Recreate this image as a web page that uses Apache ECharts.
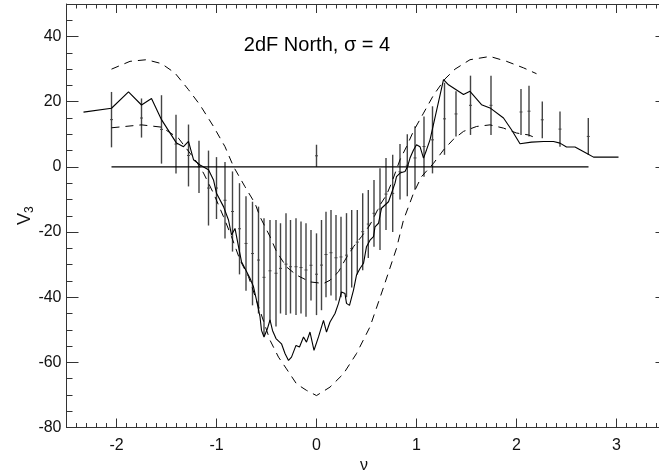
<!DOCTYPE html>
<html><head><meta charset="utf-8">
<script src="https://cdn.jsdelivr.net/npm/echarts@6/dist/echarts.min.js"></script>
<style>html,body{margin:0;padding:0;background:#fff}#c{width:659px;height:473px}</style>
</head><body><div id="c"></div>
<script>
// ---- data ----
const nuSolid = [-2.33,-2.05,-1.88,-1.75,-1.65,-1.55,-1.4,-1.33,-1.28,-1.23,-1.165,-1.08,-1.03,-1.0,-0.93,-0.88,-0.85,-0.815,-0.78,-0.75,-0.715,-0.665,-0.63,-0.6,-0.565,-0.55,-0.525,-0.49,-0.465,-0.44,-0.405,-0.35,-0.315,-0.28,-0.25,-0.205,-0.17,-0.13,-0.1,-0.065,-0.025,0.02,0.07,0.1,0.135,0.185,0.22,0.25,0.285,0.3,0.33,0.37,0.4,0.435,0.47,0.5,0.535,0.57,0.585,0.62,0.65,0.685,0.72,0.75,0.785,0.8,0.835,0.885,0.91,0.935,0.97,1.0,1.035,1.07,1.1,1.135,1.27,1.32,1.385,1.47,1.535,1.65,1.735,1.87,1.95,2.035,2.15,2.27,2.37,2.435,2.5,2.585,2.7,2.77,3.02];
const v3Solid = [16.8,18,23,19,21,14.5,7.3,6.2,7.8,2.2,0.6,-0.9,-4,-8.1,-12.2,-16.3,-20.9,-18.9,-24.5,-29.1,-31.2,-34.2,-36.8,-40.9,-46,-50.2,-52.2,-49.6,-47,-50.2,-52.7,-54.3,-57.3,-59.4,-58.4,-54.8,-55.3,-52.2,-53.8,-50.7,-56.3,-52.2,-47.1,-50.7,-47.6,-45,-41.9,-38.4,-38.9,-41.9,-42.5,-37.8,-33.2,-31.2,-29.6,-24.5,-22.5,-21.4,-18.4,-17.3,-12.7,-11.7,-10.7,-8.1,-5,-3,-1.9,-1.4,0.1,2.7,5.2,6.8,6.2,2.7,5.2,8.3,26.8,25.2,23.9,22.2,23.2,19.1,18.1,15,11.4,7.1,7.6,7.8,7.8,7.3,6.1,6.1,4.2,3.0,3.0];

const nuUpper = [-2.05,-1.865,-1.7,-1.55,-1.415,-1.28,-1.165,-1.03,-0.915,-0.83,-0.715,-0.615,-0.565,-0.465,-0.4,-0.3,-0.2,-0.065,0.07,0.135,0.22,0.285,0.37,0.45,0.535,0.585,0.635,0.7,0.75,0.835,0.9,0.97,1.07,1.17,1.285,1.385,1.535,1.735,1.9,2.07,2.2];
const v3Upper = [30,32.4,32.9,31.7,28.8,23.7,19,12.4,6.2,0.1,-6.1,-11.2,-15.3,-21.4,-26,-30.7,-33.2,-35.3,-35.8,-34.8,-32.2,-28.6,-24.5,-21.4,-17.8,-14.8,-11.7,-8.6,-5,2.2,6.2,11,16.5,22,27,30,32.9,33.9,32.4,30.4,28.6];

const nuLower = [-2.05,-1.75,-1.55,-1.38,-1.2,-1.13,-1.03,-0.93,-0.85,-0.765,-0.68,-0.6,-0.465,-0.38,-0.3,-0.2,-0.1,0.0,0.135,0.27,0.4,0.535,0.67,0.8,0.87,0.97,1.05,1.17,1.27,1.37,1.47,1.6,1.735,1.87,2.0,2.12,2.2];
const v3Lower = [12,12.9,12.2,8.8,1.6,-1.9,-8.1,-15.3,-21.4,-28.6,-33.7,-41,-53.2,-58.4,-62,-66.6,-68.6,-70.2,-67.6,-63.5,-57.3,-49.1,-37,-25,-16.3,-8.1,-3,1.1,5.2,8.5,10.9,12.4,12.9,11.9,10.4,9.8,8.8];

const barNu = [-2.05,-1.75,-1.55,-1.405,-1.28,-1.175,-1.08,-1.0,-0.915,-0.84,-0.77,-0.705,-0.64,-0.58,-0.525,-0.465,-0.405,-0.36,-0.305,-0.26,-0.205,-0.155,-0.105,-0.055,0.0,0.05,0.095,0.145,0.195,0.245,0.30,0.352,0.408,0.462,0.518,0.575,0.635,0.695,0.762,0.835,0.908,0.985,1.075,1.16,1.28,1.395,1.54,1.745,2.045,2.125,2.258,2.435,2.718,0.0];
const barLow = [6,9,1,-2,-6,-8,-18,-16,-22,-26,-33,-38,-42.5,-45,-52,-47.5,-49,-45,-45.5,-45,-45.5,-45,-46,-41,-45.5,-44,-40,-39.5,-41,-40,-40,-37,-33,-31.7,-28,-24.5,-25.5,-19.4,-20,-10,-9,-7,-3,-2,3.7,9.3,9.8,9.8,9.8,9.3,8.8,6.2,3.7,0];
const barHigh = [23,21,22,16,13,8,5,3,1.5,-1.4,-5,-9,-10.7,-12.2,-15.8,-16.3,-16.3,-17.3,-14.2,-16.3,-15.8,-16.8,-17.3,-19.4,-20.4,-16.3,-13.8,-13.2,-14.8,-15.3,-14.2,-13.2,-13.2,-8.1,-7.1,-4,-0.4,2.7,3.7,7,10,12.5,15.5,18.6,25.8,23.2,28,28,23.9,24.9,20.1,17,15,6.8];

const zeroNu = [-2.05, 2.72];
const zeroV3 = [0, 0];

const xTickLabels = [-2,-1,0,1,2,3];
const yTickLabels = [-80,-60,-40,-20,0,20,40];
const titleText = '2dF North, \u03c3 = 4';

// ---- chart ----
const X_MIN = -2.5, X_MAX = 3.45, Y_MIN = -80, Y_MAX = 50;
const FONT = '"Liberation Sans", Arial, Helvetica, sans-serif';
const AX = '#333';

const xMinor = [];
for (let i = -25; i <= 34; i++) { if (i % 10 !== 0) xMinor.push(i / 10); }
const yMinor = [];
for (let v = -80; v <= 50; v += 5) { if (v % 20 !== 0) yMinor.push(v); }

function pairs(xs, ys) { return xs.map((x, i) => [x, ys[i]]); }

function xAx(pos, ticks, len, showLine, showLabel) {
  return {
    type: 'value', position: pos, min: X_MIN, max: X_MAX,
    axisLine: { show: showLine, onZero: false, lineStyle: { color: AX, width: 1 } },
    axisTick: { show: true, inside: true, length: len, customValues: ticks, lineStyle: { color: AX, width: 1 } },
    axisLabel: showLabel ? { show: true, customValues: xTickLabels, margin: 10, fontSize: 16, fontFamily: FONT, color: '#111' } : { show: false },
    splitLine: { show: false }, minorTick: { show: false }
  };
}
function yAx(pos, ticks, len, showLine, showLabel) {
  return {
    type: 'value', position: pos, min: Y_MIN, max: Y_MAX,
    axisLine: { show: showLine, onZero: false, lineStyle: { color: AX, width: 1 } },
    axisTick: { show: true, inside: true, length: len, customValues: ticks, lineStyle: { color: AX, width: 1 } },
    axisLabel: showLabel ? { show: true, customValues: yTickLabels, margin: 5, fontSize: 16, fontFamily: FONT, color: '#111' } : { show: false },
    splitLine: { show: false }, minorTick: { show: false }
  };
}

const xAxes = [
  Object.assign(xAx('bottom', xTickLabels, 9, true, true), {
    name: '\u03bd', nameLocation: 'middle', nameGap: 30, nameMoveOverlap: false,
    nameTextStyle: { fontSize: 16, fontFamily: FONT, color: '#111' }
  }),
  xAx('bottom', xMinor, 4.5, false, false),
  xAx('top', xTickLabels, 9, true, false),
  xAx('top', xMinor, 4.5, false, false)
];
const yAxes = [
  Object.assign(yAx('left', yTickLabels, 12, true, true), {
    name: 'V{s|3}', nameLocation: 'middle', nameGap: 31, nameRotate: 90, nameMoveOverlap: false,
    nameTextStyle: { fontSize: 18, fontFamily: FONT, color: '#111',
      rich: { s: { fontSize: 12, fontFamily: FONT, color: '#111', verticalAlign: 'bottom', padding: [9, 0, 0, 0] } } }
  }),
  yAx('left', yMinor, 6, false, false),
  yAx('right', yTickLabels, 6, true, false)
];

const chart = echarts.init(document.getElementById('c'), null, { renderer: 'canvas' });
chart.setOption({
  animation: false,
  backgroundColor: '#fff',
  grid: { left: 66.5, right: -2.5, top: 4, bottom: 45.5, containLabel: false, outerBoundsMode: 'none' },
  xAxis: xAxes,
  yAxis: yAxes,
  graphic: [{
    type: 'text', x: 317, y: 45,
    style: { text: titleText, font: '20px ' + FONT, fill: '#000', align: 'center', verticalAlign: 'middle', textAlign: 'center', textVerticalAlign: 'middle' }
  }],
  series: [
    { type: 'line', xAxisIndex: 0, yAxisIndex: 0, data: pairs(zeroNu, zeroV3), symbol: 'none',
      lineStyle: { color: '#000', width: 1.2 } },
    { type: 'custom', xAxisIndex: 0, yAxisIndex: 0,
      data: barNu.map((x, i) => [x, barLow[i], barHigh[i]]),
      renderItem: function (params, api) {
        const x = api.value(0), lo = api.value(1), hi = api.value(2);
        const p1 = api.coord([x, lo]), p2 = api.coord([x, hi]);
        const pm = api.coord([x, (lo + hi) / 2]);
        return { type: 'group', children: [
          { type: 'line', shape: { x1: p1[0], y1: p1[1], x2: p2[0], y2: p2[1] }, style: { stroke: '#444', lineWidth: 1.4 } },
          { type: 'line', shape: { x1: pm[0] - 1.5, y1: pm[1], x2: pm[0] + 1.5, y2: pm[1] }, style: { stroke: '#444', lineWidth: 1 } }
        ]};
      }, z: 3 },
    { type: 'line', xAxisIndex: 0, yAxisIndex: 0, data: pairs(nuUpper, v3Upper), symbol: 'none',
      lineStyle: { color: '#000', width: 1, type: [8, 6] }, z: 4 },
    { type: 'line', xAxisIndex: 0, yAxisIndex: 0, data: pairs(nuLower, v3Lower), symbol: 'none',
      lineStyle: { color: '#000', width: 1, type: [8, 6] }, z: 4 },
    { type: 'line', xAxisIndex: 0, yAxisIndex: 0, data: pairs(nuSolid, v3Solid), symbol: 'none',
      lineStyle: { color: '#000', width: 1.1 }, z: 5 }
  ]
});
</script>
</body></html>
